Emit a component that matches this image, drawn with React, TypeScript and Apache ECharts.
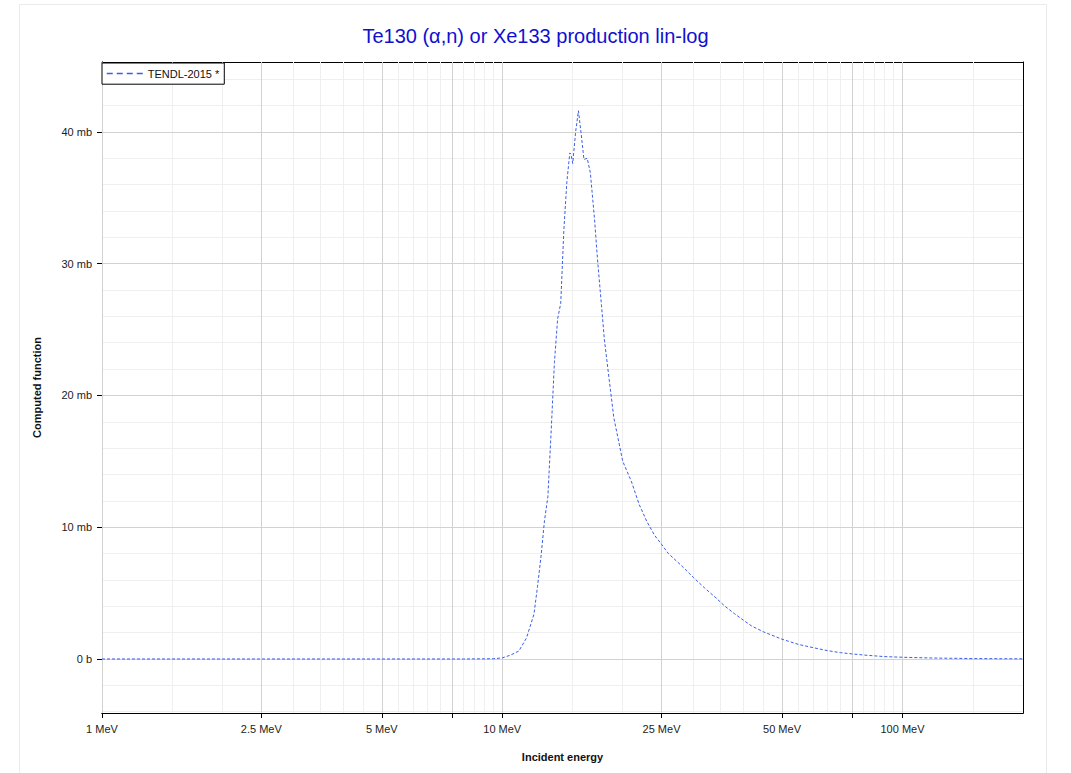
import React, { useEffect, useRef } from 'react';
import * as echarts from 'echarts';

// Incident energy (MeV) and cross section (mb)
const energyMeV = [
  1, 2, 5, 8, 9, 9.5, 10, 10.5, 11, 11.5, 12, 12.25, 12.5, 12.75, 13, 13.25, 13.5, 13.75, 14,
  14.25, 14.5, 14.75, 14.85, 15, 15.25, 15.5, 15.75, 16, 16.3, 16.6, 17, 17.3, 17.7, 18, 18.5,
  19, 20, 21, 22, 23, 24, 25, 26, 28, 30, 32, 34, 36, 38, 40, 42, 45, 50, 55, 60, 65, 70, 75,
  80, 90, 100, 120, 150, 200,
];
const crossSectionMb = [
  0, 0, 0, 0, 0.01, 0.02, 0.08, 0.3, 0.6, 1.6, 3.4, 5.5, 7.8, 10.5, 12.3, 17.3, 22.5, 25.8, 27.0,
  32.5, 36.2, 38.4, 38.3, 37.6, 40.0, 41.6, 39.8, 37.9, 38.0, 36.9, 33.4, 30.3, 26.8, 24.2, 21.2,
  18.3, 15.0, 13.5, 11.7, 10.4, 9.4, 8.7, 8.0, 7.1, 6.2, 5.4, 4.7, 4.0, 3.45, 2.95, 2.5, 2.05,
  1.5, 1.1, 0.85, 0.63, 0.48, 0.38, 0.3, 0.18, 0.13, 0.07, 0.03, 0.01,
];

const seriesName = 'TENDL-2015 *';
const xLabelValues = [1, 2.5, 5, 10, 25, 50, 100];
const xMajorValues = [1, 2.5, 5, 7.5, 10, 25, 50, 75, 100];
const xMinorValues = [
  1.5, 2, 3, 3.5, 4, 4.5, 5.5, 6, 6.5, 7, 8, 8.5, 9, 9.5, 15, 20, 30, 35, 40, 45, 55, 60, 65, 70,
  80, 85, 90, 95, 150,
];
const yLabelValues = [0, 10, 20, 30, 40];
const yMinorValues = [
  -4, -2, 2, 4, 6, 8, 12, 14, 16, 18, 22, 24, 26, 28, 32, 34, 36, 38, 42, 44,
];
const xMin = 1;
const xMax = 200;
const yMin = -4.1;
const yMax = 45.3;

const FONT = 'Liberation Sans, Arial, Helvetica, sans-serif';

export default function App() {
  const ref = useRef<HTMLDivElement>(null);

  useEffect(() => {
    if (!ref.current) return;
    const chart = echarts.init(ref.current, null, { renderer: 'svg' });
    const gridRect = { left: 102, top: 62, right: 48, bottom: 60 };
    const xBase = { type: 'log', logBase: 10, min: xMin, max: xMax };
    const yBase = { type: 'value', min: yMin, max: yMax };
    const allX = [...xMajorValues, ...xMinorValues];
    const allY = [...yLabelValues, ...yMinorValues];
    const axisLineBlack = { show: true, onZero: false, lineStyle: { color: '#000', width: 1 } };

    const gridLines = [
      ...xMinorValues.map((v) => ({ xAxis: v, lineStyle: { color: '#efefef', width: 1, type: 'solid' } })),
      ...yMinorValues.map((v) => ({ yAxis: v, lineStyle: { color: '#efefef', width: 1, type: 'solid' } })),
      ...xMajorValues.map((v) => ({ xAxis: v, lineStyle: { color: '#d2d2d2', width: 1, type: 'solid' } })),
      ...yLabelValues.map((v) => ({ yAxis: v, lineStyle: { color: '#d2d2d2', width: 1, type: 'solid' } })),
    ];

    const option: any = {
      animation: false,
      backgroundColor: '#fff',
      textStyle: { fontFamily: FONT },
      title: {
        text: 'Te130 (α,n) or Xe133 production lin-log',
        left: 'center',
        top: 21,
        textStyle: { color: '#1010d0', fontSize: 20, fontWeight: 'normal', fontFamily: FONT },
      },
      graphic: [
        {
          type: 'rect',
          shape: { x: 19.5, y: 4.5, width: 1027, height: 820 },
          style: { fill: 'none', stroke: '#ebebeb', lineWidth: 1 },
          silent: true,
          z: -10,
        },
      ],
      legend: {
        data: [seriesName],
        left: 102,
        top: 63,
        orient: 'vertical',
        padding: [5, 5, 5, 4],
        itemWidth: 36,
        itemHeight: 14,
        itemGap: 0,
        backgroundColor: '#fff',
        borderColor: '#000',
        borderWidth: 1,
        borderRadius: 0,
        textStyle: { fontSize: 11, color: '#111', fontFamily: FONT },
        itemStyle: { opacity: 0 },
        lineStyle: { width: 1.5, type: [6, 4] },
        z: 20,
      },
      grid: [
        { ...gridRect, containLabel: false },
        { ...gridRect, containLabel: false, show: false },
      ],
      xAxis: [
        {
          ...xBase,
          gridIndex: 0,
          position: 'bottom',
          name: 'Incident energy',
          nameLocation: 'middle',
          nameGap: 38,
          nameTextStyle: { fontWeight: 'bold', fontSize: 11, color: '#111', fontFamily: FONT },
          axisLine: axisLineBlack,
          axisTick: { show: true, inside: false, length: 5, customValues: xMajorValues, lineStyle: { color: '#000' } },
          axisLabel: {
            show: true,
            margin: 10,
            fontSize: 11,
            color: '#222',
            fontFamily: FONT,
            customValues: xLabelValues,
            formatter: (v: number) => `${v} MeV`,
          },
          splitLine: { show: false },
          minorTick: { show: false },
        },
        {
          ...xBase,
          gridIndex: 1,
          position: 'bottom',
          axisLine: axisLineBlack,
          axisTick: { show: true, inside: true, length: 4, customValues: allX, lineStyle: { color: '#000' } },
          axisLabel: { show: false },
          splitLine: { show: false },
        },
        {
          ...xBase,
          gridIndex: 1,
          position: 'top',
          axisLine: axisLineBlack,
          axisTick: { show: true, inside: true, length: 4, customValues: allX, lineStyle: { color: '#000' } },
          axisLabel: { show: false },
          splitLine: { show: false },
        },
      ],
      yAxis: [
        {
          ...yBase,
          gridIndex: 0,
          position: 'left',
          name: 'Computed function',
          nameLocation: 'middle',
          nameGap: 60,
          nameRotate: 90,
          nameTextStyle: { fontWeight: 'bold', fontSize: 11, color: '#111', fontFamily: FONT },
          axisLine: axisLineBlack,
          axisTick: { show: true, inside: false, length: 5, customValues: yLabelValues, lineStyle: { color: '#000' } },
          axisLabel: {
            show: true,
            margin: 10,
            fontSize: 11,
            color: '#222',
            fontFamily: FONT,
            customValues: yLabelValues,
            formatter: (v: number) => (v === 0 ? '0 b' : `${v} mb`),
          },
          splitLine: { show: false },
        },
        {
          ...yBase,
          gridIndex: 1,
          position: 'left',
          axisLine: axisLineBlack,
          axisTick: { show: true, inside: true, length: 4, customValues: allY, lineStyle: { color: '#000' } },
          axisLabel: { show: false },
          splitLine: { show: false },
        },
        {
          ...yBase,
          gridIndex: 1,
          position: 'right',
          axisLine: axisLineBlack,
          axisTick: { show: true, inside: true, length: 4, customValues: allY, lineStyle: { color: '#000' } },
          axisLabel: { show: false },
          splitLine: { show: false },
        },
      ],
      series: [
        {
          name: 'grid-lines',
          type: 'line',
          xAxisIndex: 0,
          yAxisIndex: 0,
          data: [],
          silent: true,
          z: 1,
          markLine: {
            silent: true,
            symbol: 'none',
            label: { show: false },
            animation: false,
            data: gridLines,
          },
        },
        {
          name: seriesName,
          type: 'line',
          xAxisIndex: 0,
          yAxisIndex: 0,
          data: energyMeV.map((e, i) => [e, crossSectionMb[i]]),
          showSymbol: false,
          symbol: 'none',
          smooth: false,
          z: 5,
          lineStyle: { color: '#3a5ee6', width: 1, type: [3, 2] },
          itemStyle: { color: '#3a5ee6' },
        },
      ],
    };

    chart.setOption(option);
    return () => chart.dispose();
  }, []);

  return (
    <div
      ref={ref}
      style={{ position: 'fixed', left: 0, top: 0, width: 1071, height: 773 }}
    />
  );
}
